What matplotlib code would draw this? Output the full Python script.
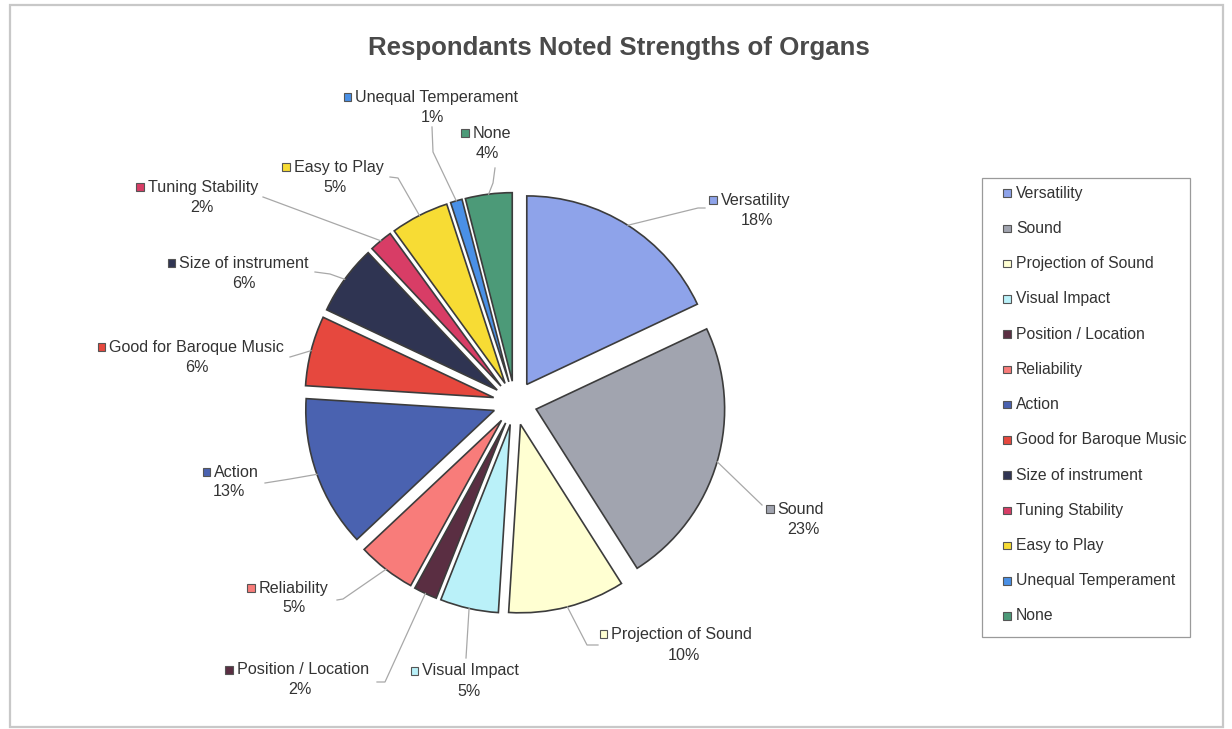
import matplotlib
matplotlib.use("Agg")
import matplotlib.pyplot as plt
from matplotlib.patches import Rectangle
import numpy as np

plt.rcParams['font.family'] = ['Liberation Sans', 'DejaVu Sans']

# ---------------- data ----------------
categories = ["Versatility", "Sound", "Projection of Sound", "Visual Impact",
              "Position / Location", "Reliability", "Action",
              "Good for Baroque Music", "Size of instrument", "Tuning Stability",
              "Easy to Play", "Unequal Temperament", "None"]
values = [18, 23, 10, 5, 2, 5, 13, 6, 6, 2, 5, 1, 4]
colors = ["#8EA3EA", "#A1A4AF", "#FFFFD2", "#BAF1F9", "#5A2E42", "#F87C7A",
          "#4A62B0", "#E6483E", "#2F3452", "#D83D66", "#F7DC34", "#4A90E6",
          "#4C9A78"]
title = "Respondants Noted Strengths of Organs"

# ---------------- layout (pixel coords, y from top) ----------------
W, H = 1232, 729
CX, CY, R, EXPL = 515, 403, 188.5, 22

def fy(y):
    return H - y

# label line-1 center, line-1 y, pct center x, pct y
label_pos = {
    "Versatility": (750, 200, 757, 220),
    "Sound": (795, 509, 803, 529),
    "Projection of Sound": (676, 634, 684, 655),
    "Visual Impact": (465, 671, 469, 691),
    "Position / Location": (297, 670, 300, 690),
    "Reliability": (288, 588, 294, 608),
    "Action": (231, 472, 229, 492),
    "Good for Baroque Music": (191, 347, 197, 367),
    "Size of instrument": (238, 263, 244, 283),
    "Tuning Stability": (197, 187, 202, 207),
    "Easy to Play": (333, 167, 335, 187),
    "Unequal Temperament": (431, 97, 432, 117),
    "None": (486, 133, 487, 153),
}
# leader waypoints from label side toward wedge
leaders = {
    "Versatility": [(705, 208), (698, 208)],
    "Sound": [(762, 505)],
    "Projection of Sound": [(598, 645), (587, 645)],
    "Visual Impact": [(466, 658)],
    "Position / Location": [(377, 682), (385, 682)],
    "Reliability": [(337, 600), (343, 599)],
    "Action": [(265, 483), (290, 479)],
    "Good for Baroque Music": [(290, 357)],
    "Size of instrument": [(315, 272), (330, 274)],
    "Tuning Stability": [(263, 197)],
    "Easy to Play": [(390, 177), (398, 178)],
    "Unequal Temperament": [(432, 127), (433, 152)],
    "None": [(495, 168), (493, 183)],
}

TXT = "#333333"
FS = 11.6
LFS = 11.3

fig = plt.figure(figsize=(W / 100, H / 100), dpi=100)
ax = fig.add_axes([0, 0, 1, 1])

wedges, _ = ax.pie(values, colors=colors, startangle=90, counterclock=False,
                   radius=R, center=(CX, fy(CY)), explode=[EXPL] * len(values),
                   wedgeprops=dict(edgecolor="#3c3c3c", linewidth=1.2))
ax.set_xlim(0, W)
ax.set_ylim(0, H)
ax.set_aspect("equal")
ax.axis("off")

renderer = fig.canvas.get_renderer()

# labels and leader lines
for w, name, v, col in zip(wedges, categories, values, colors):
    m = np.deg2rad(0.5 * (w.theta1 + w.theta2))
    px = w.center[0] + w.r * np.cos(m)
    py = w.center[1] + w.r * np.sin(m)
    pts = [(x, fy(y)) for x, y in leaders[name]] + [(px, py)]
    xs, ys = zip(*pts)
    ax.plot(xs, ys, color="#a8a8a8", lw=0.9, zorder=1)

    lcx, ly, pcx, pyy = label_pos[name]
    t = ax.text(0, fy(ly), name, fontsize=FS, color=TXT, ha="left", va="center")
    bb = t.get_window_extent(renderer)
    sq, gap = 7.5, 4
    total = sq + gap + bb.width
    left = lcx - total / 2
    t.set_position((left + sq + gap, fy(ly)))
    ax.add_patch(Rectangle((left, fy(ly) - sq / 2), sq, sq, facecolor=col,
                           edgecolor="#555555", lw=0.8, zorder=3))
    ax.text(pcx, fy(pyy), f"{v}%", fontsize=FS, color=TXT, ha="center", va="center")

# legend (box with colour keys)
LX0, LY0, LX1, LY1 = 982, 178, 1190, 637
ax.add_patch(Rectangle((LX0, fy(LY1)), LX1 - LX0, LY1 - LY0, facecolor="white",
                       edgecolor="#9a9a9a", lw=0.9, zorder=2))
row0, step = 193, 35.25
for i, (name, col) in enumerate(zip(categories, colors)):
    y = fy(row0 + i * step)
    ax.add_patch(Rectangle((1003, y - 3.75), 7.5, 7.5, facecolor=col,
                           edgecolor="#555555", lw=0.8, zorder=3))
    ax.text(1016, y, name, fontsize=LFS, color=TXT, ha="left", va="center",
            zorder=3)

# title
ax.text(619, fy(48), title, fontsize=18.6, fontweight="bold", color="#4a4a4a",
        ha="center", va="center")

# outer border
ax.add_patch(Rectangle((10, fy(727)), 1213, 722, facecolor="none",
                       edgecolor="#c8c8c8", lw=1.6, zorder=0))

fig.savefig("out.png", dpi=100)
